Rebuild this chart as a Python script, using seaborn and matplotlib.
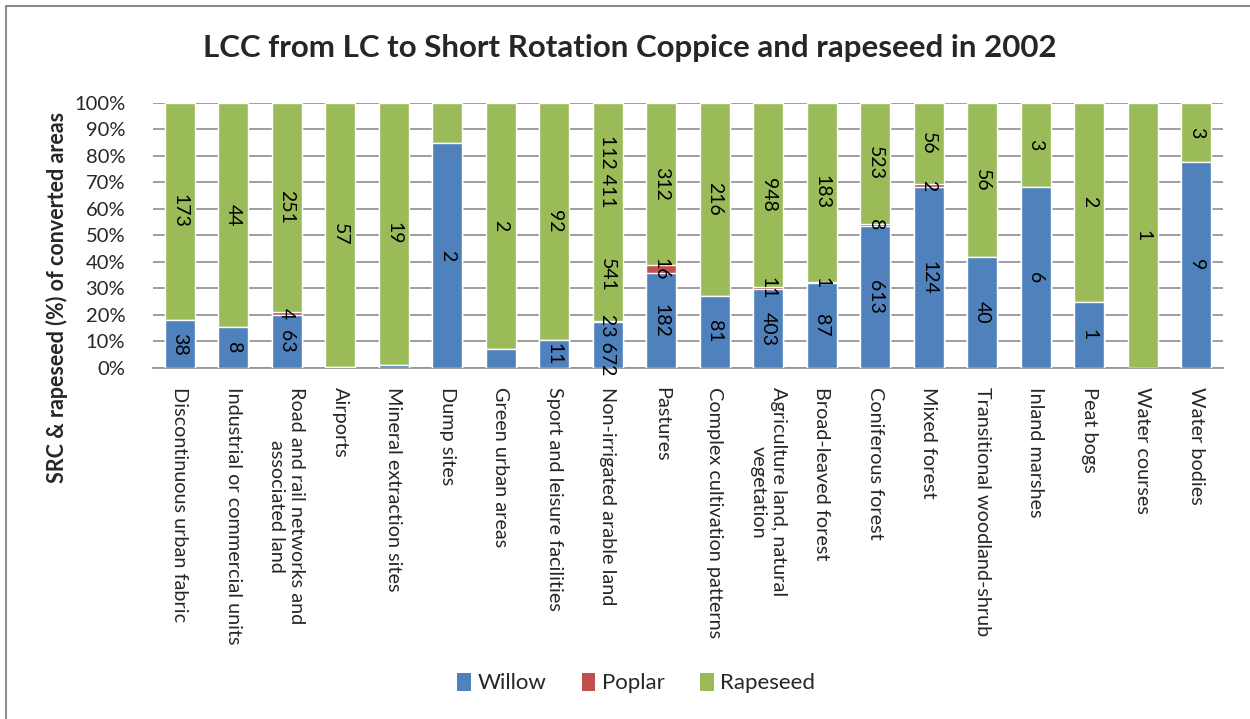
"""LCC from LC to Short Rotation Coppice and rapeseed in 2002 - 100% stacked bars."""
import matplotlib
matplotlib.use("Agg")
import matplotlib.pyplot as plt
from matplotlib.lines import Line2D
from matplotlib.patches import Patch
import pandas as pd
import seaborn as sns

categories = [
    "Discontinuous urban fabric",
    "Industrial or commercial units",
    "Road and rail networks and\nassociated land",
    "Airports",
    "Mineral extraction sites",
    "Dump sites",
    "Green urban areas",
    "Sport and leisure facilities",
    "Non-irrigated arable land",
    "Pastures",
    "Complex cultivation patterns",
    "Agriculture land, natural\nvegetation",
    "Broad-leaved forest",
    "Coniferous forest",
    "Mixed forest",
    "Transitional woodland-shrub",
    "Inland marshes",
    "Peat bogs",
    "Water courses",
    "Water bodies",
]

# shares of converted area (%)
willow_pct = [18.0, 15.4, 19.8, 0.4, 1.2, 84.6, 7.2, 10.7, 17.3, 35.7,
              27.3, 29.6, 32.1, 53.6, 68.1, 41.7, 68.0, 25.0, 0.0, 77.6]
poplar_pct = [0.0, 0.0, 1.3, 0.0, 0.0, 0.0, 0.0, 0.0, 0.4, 3.1,
              0.0, 0.8, 0.4, 0.7, 1.1, 0.0, 0.0, 0.0, 0.0, 0.0]
rapeseed_pct = [100 - w - p for w, p in zip(willow_pct, poplar_pct)]

# data labels (converted area) as printed on the bars
willow_lbl = ["38", "8", "63", "", "", "2", "", "11", "23 672", "182",
              "81", "403", "87", "613", "124", "40", "6", "1", "", "9"]
poplar_lbl = ["", "", "4", "", "", "", "", "", "541", "16",
              "", "11", "1", "8", "2", "", "", "", "", ""]
rapeseed_lbl = ["173", "44", "251", "57", "19", "", "2", "92", "112 411", "312",
                "216", "948", "183", "523", "56", "56", "3", "2", "1", "3"]

series = ["Willow", "Poplar", "Rapeseed"]
colors = {"Willow": "#4F81BD", "Poplar": "#C0504D", "Rapeseed": "#9BBB59"}

# labels that were dragged away from their segment in the original
moved_labels = {("Poplar", 8): 35.0, ("Rapeseed", 8): 74.0}

df = pd.DataFrame({
    "category": categories,
    "Willow": willow_pct,
    "Poplar": poplar_pct,
    "Rapeseed": rapeseed_pct,
})
df["top_poplar"] = df["Willow"] + df["Poplar"]
df["top_rapeseed"] = df["top_poplar"] + df["Rapeseed"]

sns.set_style("white")
plt.rcParams["font.family"] = ["Lato", "DejaVu Sans"]

fig = plt.figure(figsize=(12.5, 7.19), dpi=100)
ax = fig.add_axes([153 / 1250, 1 - 368 / 719, 1070 / 1250, 265.5 / 719])

bw = 0.56
# cumulative layering: total first, then shorter stacks on top
sns.barplot(data=df, x="category", y="top_rapeseed", color=colors["Rapeseed"],
            width=bw, saturation=1, errorbar=None, ax=ax, zorder=2)
sns.barplot(data=df, x="category", y="top_poplar", color=colors["Poplar"],
            width=bw, saturation=1, errorbar=None, ax=ax, zorder=3)
sns.barplot(data=df, x="category", y="Willow", color=colors["Willow"],
            width=bw, saturation=1, errorbar=None, ax=ax, zorder=4)

# data labels
bottoms = {"Willow": [0] * 20, "Poplar": willow_pct, "Rapeseed": list(df["top_poplar"])}
values = {"Willow": willow_pct, "Poplar": poplar_pct, "Rapeseed": rapeseed_pct}
labels = {"Willow": willow_lbl, "Poplar": poplar_lbl, "Rapeseed": rapeseed_lbl}
for s in series:
    for i in range(len(categories)):
        txt = labels[s][i]
        if not txt:
            continue
        y = moved_labels.get((s, i), bottoms[s][i] + values[s][i] / 2)
        ax.text(i, y, txt, rotation=270, ha="center", va="center",
                fontsize=14, color="black", zorder=6)

ax.set_xlim(-0.5, len(categories) - 0.5)
ax.set_ylim(0, 100)
ax.set_yticks(range(0, 101, 10))
ax.set_yticklabels([f"{v}%" for v in range(0, 101, 10)], fontsize=14.5)
ax.yaxis.grid(True, color="#969696", linewidth=1.3, zorder=0)
ax.set_axisbelow(True)
for side in ["top", "right", "left"]:
    ax.spines[side].set_visible(False)
ax.spines["bottom"].set_color("#969696")
ax.spines["bottom"].set_linewidth(1.3)
ax.tick_params(axis="y", length=0, pad=20)
ax.tick_params(axis="x", length=0, pad=14)

ax.set_xticks(range(len(categories)))
ax.set_xticklabels(categories, rotation=270, ha="center", va="top",
                   multialignment="center", fontsize=14.3)
ax.set_xlabel("")
ax.set_ylabel("")

# axis title sits lower than the plot centre in the original
fig.text(57 / 1250, 1 - 112 / 719, "SRC & rapeseed (%) of converted areas",
         rotation=90, ha="center", va="top", fontsize=15.5, fontweight="bold")

fig.text(0.504, 1 - 48 / 719, "LCC from LC to Short Rotation Coppice and rapeseed in 2002",
         ha="center", va="center", fontsize=22.5, fontweight="bold")

handles = [Patch(facecolor=colors[s], edgecolor="none", label=s) for s in series]
fig.legend(handles=handles, loc="center", bbox_to_anchor=(0.509, 1 - 683 / 719),
           ncol=3, frameon=False, fontsize=16, handlelength=0.6, handleheight=0.9,
           handletextpad=0.3, columnspacing=1.6)

# chart-area border (only left and top edges are visible in the crop)
fig.add_artist(Line2D([6 / 1250, 6 / 1250], [0, 1 - 6 / 719], color="#8c8c8c",
                      linewidth=1.5, transform=fig.transFigure))
fig.add_artist(Line2D([6 / 1250, 1], [1 - 6 / 719, 1 - 6 / 719], color="#8c8c8c",
                      linewidth=1.5, transform=fig.transFigure))

fig.savefig("out.png", dpi=100)
plt.close(fig)
